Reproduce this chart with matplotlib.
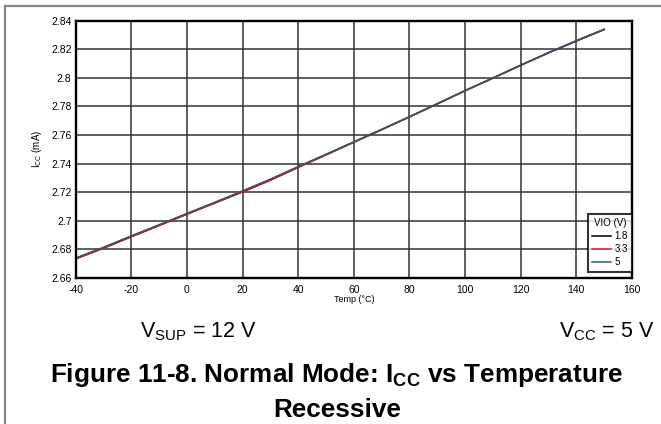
import matplotlib.pyplot as plt
from matplotlib.lines import Line2D

# Supply current vs temperature, recessive state, for three VIO levels
temp = [-40, -30, -20, -10, 0, 10, 20, 30, 40, 50, 60, 70, 80, 90, 100, 110, 120, 130, 140, 150]
icc_18 = [2.6735, 2.6810, 2.6890, 2.6968, 2.7047, 2.7125, 2.7203, 2.7285, 2.7375, 2.7462, 2.7550, 2.7638, 2.7727, 2.7818, 2.7910, 2.7998, 2.8088, 2.8175, 2.8258, 2.8338]
icc_33 = [2.6733, 2.6808, 2.6888, 2.6967, 2.7046, 2.7125, 2.7202, 2.7284, 2.7374, 2.7462, 2.7550, 2.7638, 2.7727, 2.7818, 2.7910, 2.7998, 2.8089, 2.8177, 2.8261, 2.8341]
icc_5 = [2.6740, 2.6815, 2.6895, 2.6973, 2.7052, 2.7130, 2.7210, 2.7292, 2.7380, 2.7466, 2.7553, 2.7640, 2.7729, 2.7820, 2.7912, 2.8000, 2.8089, 2.8176, 2.8259, 2.8338]
vio_labels = ['1.8', '3.3', '5']
vio_colors = ['#000000', '#e8101a', '#1f5f70']

xticks = list(range(-40, 161, 20))
yticks = [2.66, 2.68, 2.7, 2.72, 2.74, 2.76, 2.78, 2.8, 2.82, 2.84]
ytick_labels = ['2.66', '2.68', '2.7', '2.72', '2.74', '2.76', '2.78', '2.8', '2.82', '2.84']

plt.rcParams['font.family'] = ['Liberation Sans', 'DejaVu Sans']

fig = plt.figure(figsize=(6.61, 4.24), dpi=100)
ax = fig.add_axes([75.7 / 661, 1 - 278 / 424, (632 - 75.7) / 661, (278 - 20.7) / 424])

# page frame: only left and top edges
fig.add_artist(Line2D([5 / 661, 5 / 661], [0, 1 - 6 / 424], transform=fig.transFigure, color='#888888', lw=1.6))
fig.add_artist(Line2D([5 / 661, 1], [1 - 6 / 424, 1 - 6 / 424], transform=fig.transFigure, color='#888888', lw=1.6))

for vals, lab, col in zip([icc_18, icc_33, icc_5], vio_labels, vio_colors):
    ax.plot(temp, vals, color=col, lw=1.1, label=lab)

ax.set_xlim(-40, 160)
ax.set_ylim(2.66, 2.84)
ax.set_xticks(xticks)
ax.set_xticklabels([str(t) for t in xticks])
ax.set_yticks(yticks)
ax.set_yticklabels(ytick_labels)
ax.tick_params(axis='both', labelsize=7.5, length=0)
ax.tick_params(axis='x', pad=5)
ax.tick_params(axis='y', pad=3)
ax.grid(True, color='#333333', lw=1.1)
ax.set_axisbelow(True)
for s in ax.spines.values():
    s.set_linewidth(1.7)
    s.set_color('black')

ax.set_xlabel('Temp (°C)', fontsize=6.5, labelpad=0)
ax.set_ylabel('I$_{\\mathregular{CC}}$ (mA)', fontsize=7, labelpad=5)

leg = ax.legend(title='VIO (V)', loc='lower right', bbox_to_anchor=(1.0, 0.025),
                fontsize=7, title_fontsize=7,
                frameon=True, fancybox=False, edgecolor='black', borderpad=0.45,
                handlelength=1.9, handletextpad=0.35, labelspacing=0.3,
                borderaxespad=0)
leg.get_frame().set_linewidth(1.5)

fig.text(140 / 661, 1 - 332 / 424, 'V$_{\\mathregular{SUP}}$ = 12 V', fontsize=15.5, va='center', ha='left')
fig.text(655 / 661, 1 - 332 / 424, 'V$_{\\mathregular{CC}}$ = 5 V', fontsize=15.5, va='center', ha='right')
fig.text(336 / 661, 1 - 375 / 424, 'Figure 11-8. Normal Mode: I$_{\\mathregular{CC}}$ vs Temperature',
         fontsize=18.8, fontweight='bold', ha='center', va='center')
fig.text(337 / 661, 1 - 410 / 424, 'Recessive', fontsize=18.8, fontweight='bold', ha='center', va='center')

fig.savefig('out.png', dpi=100)
